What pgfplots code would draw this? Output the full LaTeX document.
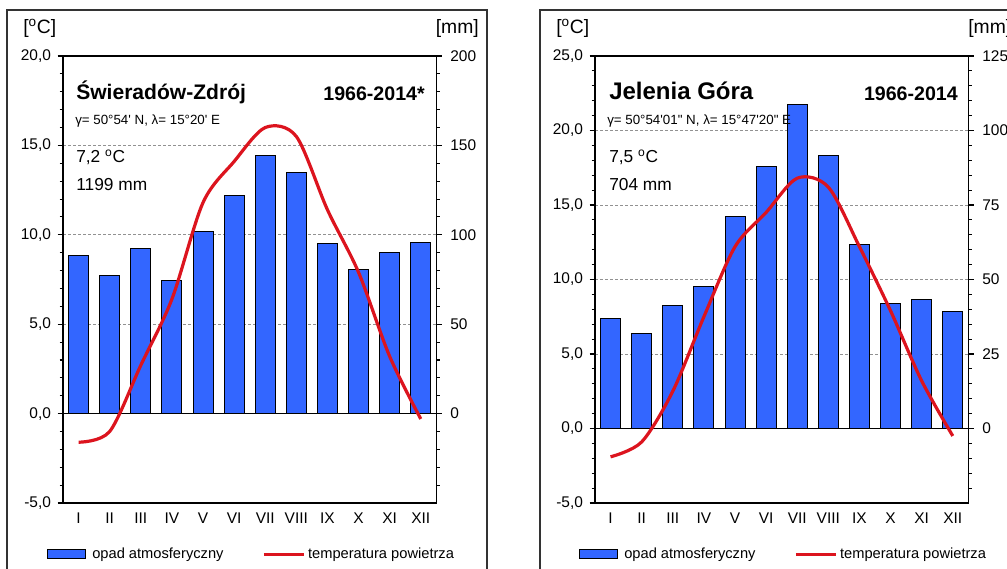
\documentclass[border=0pt]{standalone}
\usepackage{pgfplots}
\pgfplotsset{compat=1.18}
\usepackage{fontspec}
\setmainfont{Liberation Sans}

\definecolor{barblue}{RGB}{51,102,255}
\definecolor{tempred}{RGB}{220,20,30}
\definecolor{gridgray}{RGB}{145,145,145}

\newcommand\unitfont{\fontsize{14.5}{16}\selectfont}
\newcommand\titlefont{\fontsize{18}{20}\selectfont\bfseries}
\newcommand\yearfont{\fontsize{14.7}{16}\selectfont\bfseries}
\newcommand\coordfont{\fontsize{10}{12}\selectfont}
\newcommand\infofont{\fontsize{13}{15}\selectfont}

% data: precipitation [mm], temperature [deg C]
\pgfplotstableread{
m  precA  tempA  precB  tempB
1  88.5   -1.6   36.9   -1.9
2  77.1   -1.0   31.8   -0.9
3  92.3    2.7   41.3    2.5
4  74.5    6.4   47.7    7.5
5  102.1  11.8   71.2   12.2
6  121.9  14.1   88.0   14.5
7  144.1  16.0  108.8   16.8
8  135.0  15.5   91.7   16.2
9  94.9   11.4   61.7   12.2
10 80.7    7.9   41.9    7.9
11 90.0    3.2   43.3    3.2
12 95.6   -0.3   39.1   -0.5
}\climatedata

\pgfplotsset{
  climate/.style={
    scale only axis, width=280pt, height=335.25pt,
    anchor=south west,
    xmin=0.5, xmax=12.5,
    xtick={1,...,12},
    xticklabels={I,II,III,IV,V,VI,VII,VIII,IX,X,XI,XII},
    major x tick style={draw=none},
    tick align=outside,
    major tick length=4pt, minor tick length=2.5pt,
    axis line style={line width=1.1pt},
    every tick/.style={black, line width=0.8pt},
    tick label style={font=\fontsize{11.6}{13}\selectfont},
    /pgf/number format/assume math mode=true,
  },
  mmaxis/.style={climate, ytick pos=right, xticklabels={},
    yticklabel style={xshift=3pt},
    ymajorgrids, grid style={gridgray, dash pattern=on 2.25pt off 1.5pt, line width=0.6pt}},
  taxis/.style={climate, ytick pos=left,
    yticklabel style={xshift=-1.5pt, /pgf/number format/.cd, fixed, fixed zerofill, precision=1, use comma},
    minor y tick num=4,
    legend style={draw=none, fill=none, at={(0.506,-0.115)}, anchor=center,
      legend columns=2, font=\fontsize{11}{13}\selectfont,
      /tikz/every even column/.append style={column sep=27pt}}},
  barlegend/.style={legend image code/.code={
    \path[draw=none, fill=none] (0pt,0pt) -- (31.5pt,0pt);
    \draw[fill=barblue, draw=black, line width=0.75pt] (0pt,-3.4pt) rectangle (28.5pt,3.4pt);}},
  linelegend/.style={legend image code/.code={
    \draw[tempred, line width=2.4pt] (0pt,0pt) -- (30pt,0pt);}},
}

\begin{document}
\begin{tikzpicture}
\path[use as bounding box] (0,0) rectangle (755.25pt,-426pt);
\begin{scope}
\clip (0,0) rectangle (755.25pt,-426pt);

% ---- left: Swieradow-Zdroj ----
\begin{axis}[mmaxis, at={(47.25pt,-377.25pt)},
    ymin=-50, ymax=200, ytick={0,50,...,200}, minor ytick={-40,-30,...,190}]
  \addplot[ybar, bar width=15pt, fill=barblue, draw=black, line width=0.75pt]
    table[x=m, y=precA] {\climatedata};
  \draw[black, line width=1.1pt] (axis cs:0.5,0) -- (axis cs:12.5,0);
\end{axis}
\begin{axis}[taxis, at={(47.25pt,-377.25pt)},
    ymin=-5, ymax=20, ytick={-5,0,...,20}]
  \addlegendimage{barlegend}
  \addlegendentry{opad atmosferyczny}
  \addplot[tempred, line width=2.4pt, smooth, mark=none, linelegend]
    table[x=m, y=tempA] {\climatedata};
  \addlegendentry{temperatura powietrza}
\end{axis}

% ---- right: Jelenia Gora ----
\begin{axis}[mmaxis, at={(446.25pt,-377.25pt)},
    ymin=-25, ymax=125, ytick={0,25,...,125}, minor ytick={-20,-15,...,120}]
  \addplot[ybar, bar width=15pt, fill=barblue, draw=black, line width=0.75pt]
    table[x=m, y=precB] {\climatedata};
  \draw[black, line width=1.1pt] (axis cs:0.5,0) -- (axis cs:12.5,0);
\end{axis}
\begin{axis}[taxis, at={(446.25pt,-377.25pt)},
    ymin=-5, ymax=25, ytick={-5,0,...,25}]
  \addlegendimage{barlegend}
  \addlegendentry{opad atmosferyczny}
  \addplot[tempred, line width=2.4pt, smooth, mark=none, linelegend]
    table[x=m, y=tempB] {\climatedata};
  \addlegendentry{temperatura powietrza}
\end{axis}

% frames and texts, in pixel units of the reference
\begin{scope}[x=0.75pt, y=-0.75pt, every node/.style={inner sep=0pt}]
  \draw[black!80, line width=1.1pt] (7,10) rectangle (487,600);
  \draw[black!80, line width=1.1pt] (540,10) rectangle (1020,600);

  \node[anchor=base west, font=\unitfont] at (23,33) {[\textsuperscript{o}C]};
  \node[anchor=base east, font=\unitfont] at (479,33) {[mm]};
  \node[anchor=base west, font=\fontsize{15.8}{18}\selectfont\bfseries] at (76,99) {Świeradów-Zdrój};
  \node[anchor=base east, font=\yearfont] at (425,100) {1966-2014*};
  \node[anchor=base west, font=\coordfont] at (75,124) {γ= 50°54\textquotesingle{} N, λ= 15°20\textquotesingle{} E};
  \node[anchor=base west, font=\infofont] at (76,162) {7,2 \textsuperscript{o}C};
  \node[anchor=base west, font=\infofont] at (76,190) {1199 mm};

  \node[anchor=base west, font=\unitfont] at (556,33) {[\textsuperscript{o}C]};
  \node[anchor=base west, font=\unitfont] at (968,33) {[mm]};
  \node[anchor=base west, font=\titlefont] at (609,99) {Jelenia Góra};
  \node[anchor=base east, font=\yearfont] at (958,100) {1966-2014};
  \node[anchor=base west, font=\coordfont] at (607,124) {γ= 50°54\textquotesingle{}01\textquotedbl{} N, λ= 15°47\textquotesingle{}20\textquotedbl{} E};
  \node[anchor=base west, font=\infofont] at (609,162) {7,5 \textsuperscript{o}C};
  \node[anchor=base west, font=\infofont] at (609,190) {704 mm};
\end{scope}
\end{scope}
\end{tikzpicture}
\end{document}
